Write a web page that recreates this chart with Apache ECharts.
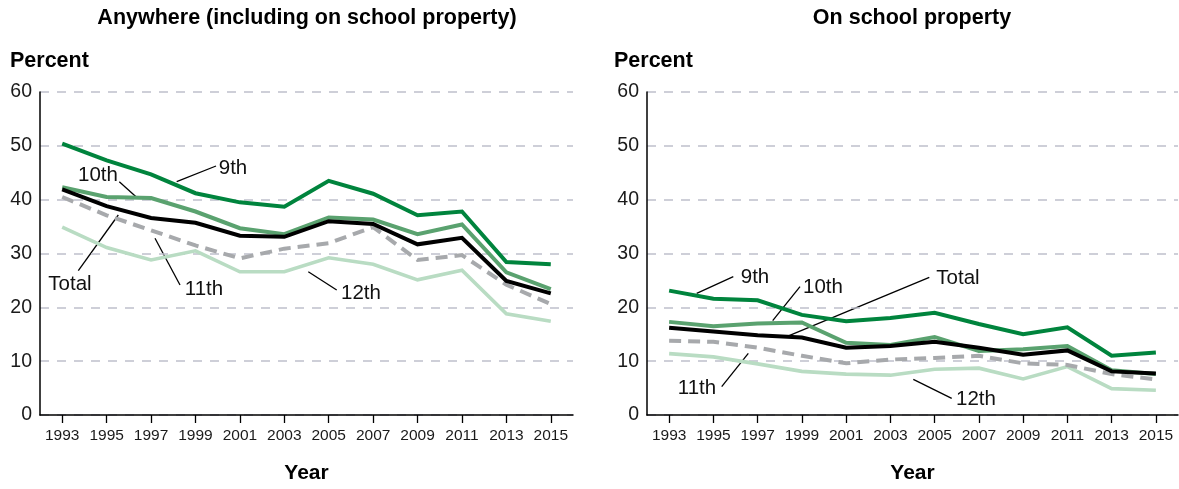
<!DOCTYPE html>
<html>
<head>
<meta charset="utf-8">
<script src="https://cdn.jsdelivr.net/npm/echarts@6/dist/echarts.min.js"></script>
<style>
  html, body { margin: 0; padding: 0; background: #fff; }
  #chart { width: 1179px; height: 489px; }
</style>
</head>
<body>
<div id="chart"></div>
<script>
// Survey years on the horizontal axis
const years = ['1993','1995','1997','1999','2001','2003','2005','2007','2009','2011','2013','2015'];
const yTicks = [0, 10, 20, 30, 40, 50, 60];

// Anywhere (including on school property), percent by grade
const anyTotal = [41.9, 38.8, 36.6, 35.7, 33.3, 33.1, 36.0, 35.5, 31.7, 32.9, 24.9, 22.6];
const any9th   = [50.4, 47.3, 44.7, 41.2, 39.5, 38.7, 43.5, 41.1, 37.1, 37.8, 28.4, 28.0];
const any10th  = [42.3, 40.5, 40.3, 37.8, 34.7, 33.6, 36.7, 36.3, 33.6, 35.4, 26.5, 23.4];
const any11th  = [40.5, 37.1, 34.3, 31.5, 29.1, 30.9, 31.9, 34.9, 28.8, 29.7, 24.2, 20.6];
const any12th  = [34.9, 31.1, 28.8, 30.5, 26.6, 26.6, 29.2, 28.0, 25.1, 26.9, 18.8, 17.4];

// On school property, percent by grade
const schTotal = [16.2, 15.5, 14.8, 14.4, 12.5, 12.8, 13.6, 12.5, 11.2, 12.0, 8.1, 7.7];
const sch9th   = [23.1, 21.6, 21.3, 18.6, 17.4, 18.0, 19.0, 16.9, 15.0, 16.3, 11.0, 11.6];
const sch10th  = [17.3, 16.5, 17.0, 17.2, 13.4, 13.0, 14.5, 11.9, 12.2, 12.8, 8.3, 7.6];
const sch11th  = [13.8, 13.6, 12.5, 11.0, 9.6, 10.3, 10.6, 11.0, 9.6, 9.3, 7.6, 6.6];
const sch12th  = [11.4, 10.8, 9.5, 8.1, 7.6, 7.4, 8.5, 8.7, 6.7, 9.0, 4.9, 4.6];

const FONT = "'Liberation Sans', Arial, Helvetica, sans-serif";
const C9 = '#00843d', C10 = '#5aa26f', C11 = '#a7a9ac', C12 = '#b9dcc3', CT = '#000000';

const chart = echarts.init(document.getElementById('chart'), null, { renderer: 'canvas' });

function xAxisFor(gridIndex) {
  return {
    type: 'category', gridIndex, data: years, boundaryGap: true,
    axisLine: { show: true, lineStyle: { color: '#000', width: 1.5 } },
    axisTick: { show: true, alignWithLabel: true, length: 8, lineStyle: { color: '#000', width: 1.3 } },
    axisLabel: { interval: 0, fontSize: 15.5, color: '#1a1a1a', fontFamily: FONT, margin: 13 },
    name: 'Year', nameLocation: 'middle', nameGap: 48,
    nameTextStyle: { fontSize: 21, fontWeight: 'bold', color: '#000', fontFamily: FONT }
  };
}
function yAxisFor(gridIndex) {
  return {
    type: 'value', gridIndex, min: yTicks[0], max: yTicks[yTicks.length - 1], interval: 10,
    axisLine: { show: true, lineStyle: { color: '#000', width: 1.5 } },
    axisTick: { show: false },
    axisLabel: { fontSize: 19.5, color: '#1a1a1a', fontFamily: FONT, margin: 8 },
    splitLine: { show: true, lineStyle: { color: '#bfc0cc', width: 1.5, type: [9, 8] } }
  };
}
function line(name, data, idx, color, width, dashed) {
  return {
    name, type: 'line', xAxisIndex: idx, yAxisIndex: idx, data,
    symbol: 'none', silent: true, animation: false,
    lineStyle: { color, width, type: dashed ? [12, 7] : 'solid', cap: 'butt', join: 'miter' },
    itemStyle: { color }
  };
}

// Text labels with leader lines pointing at the lines
const txt = (x, y, s, opts) => Object.assign({
  type: 'text', x, y,
  style: { text: s, fontSize: 20.5, fontFamily: FONT, fill: '#111', textAlign: 'center', textVerticalAlign: 'middle' }
}, opts || {});
const lead = (x1, y1, x2, y2) => ({
  type: 'line', shape: { x1, y1, x2, y2 }, style: { stroke: '#000', lineWidth: 1.3 }
});
const boldText = (x, y, s, align) => ({
  type: 'text', x, y,
  style: { text: s, fontSize: 21.5, fontWeight: 'bold', fontFamily: FONT, fill: '#000', textAlign: align, textVerticalAlign: 'middle' }
});

chart.setOption({
  animation: false,
  backgroundColor: '#fff',
  grid: [
    { left: 40, top: 92, width: 533, height: 326 },
    { left: 647, top: 92, width: 531, height: 326 }
  ],
  xAxis: [xAxisFor(0), xAxisFor(1)],
  yAxis: [yAxisFor(0), yAxisFor(1)],
  series: [
    line('12th', any12th, 0, C12, 3.6, false),
    line('11th', any11th, 0, C11, 4, true),
    line('10th', any10th, 0, C10, 4, false),
    line('9th', any9th, 0, C9, 4, false),
    line('Total', anyTotal, 0, CT, 4, false),
    line('12th', sch12th, 1, C12, 3.6, false),
    line('11th', sch11th, 1, C11, 4, true),
    line('10th', sch10th, 1, C10, 4, false),
    line('9th', sch9th, 1, C9, 4, false),
    line('Total', schTotal, 1, CT, 4, false)
  ],
  graphic: [
    boldText(307, 18, 'Anywhere (including on school property)', 'center'),
    boldText(912, 18, 'On school property', 'center'),
    boldText(10, 61, 'Percent', 'left'),
    boldText(614, 61, 'Percent', 'left'),

    lead(176.7, 181.7, 216, 166), txt(233, 168, '9th'),
    lead(119.3, 181.7, 136, 196.7), txt(98, 175.5, '10th'),
    lead(78.3, 270.7, 118.3, 215), txt(70, 284, 'Total'),
    lead(155, 238.3, 180, 285), txt(204, 289.5, '11th'),
    lead(308.3, 271.7, 336.7, 290), txt(361, 293.5, '12th'),

    lead(696.7, 293.3, 733.3, 276.7), txt(755, 277, '9th'),
    lead(772.7, 320.7, 800, 286.7), txt(823, 287, '10th'),
    lead(786.7, 336.7, 929.3, 277.3), txt(958, 278.5, 'Total'),
    lead(721.7, 386.7, 748.3, 353.3), txt(697, 388.5, '11th'),
    lead(913.3, 379.3, 951.7, 398.3), txt(976, 399, '12th')
  ]
});
</script>
</body>
</html>
